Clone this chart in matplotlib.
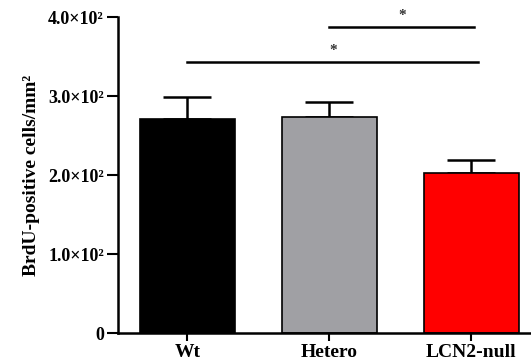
import matplotlib
matplotlib.use("Agg")
import matplotlib.pyplot as plt

groups = ['Wt', 'Hetero', 'LCN2-null']
means = [271, 273, 202]
sems = [28, 19, 17]
colors = ['#000000', '#a0a0a4', '#ff0000']
yticks = [0, 100, 200, 300, 400]
ytick_labels = ['0', '1.0×10²', '2.0×10²', '3.0×10²', '4.0×10²']
# significance bars: (from group, to group, height)
sig = [(0, 2.05, 343), (1, 2.02, 388)]

plt.rcParams['font.family'] = ['Liberation Serif', 'DejaVu Serif']
plt.rcParams['font.weight'] = 'bold'

fig = plt.figure(figsize=(5.31, 3.63), dpi=100)
ax = fig.add_axes([0.222, 0.0826, 0.778, 0.8705])

x = range(len(groups))
ax.bar(x, means, width=0.67, color=colors, edgecolor='black', linewidth=1.2, zorder=2)
ax.errorbar(x, means, yerr=[[0] * 3, sems], fmt='none', ecolor='black',
            elinewidth=1.8, capsize=17.5, capthick=1.8, zorder=1)

for a, b, h in sig:
    ax.plot([a, b], [h, h], color='black', lw=1.8, clip_on=False)
    ax.text((a + b) / 2, h + 6, '*', ha='center', va='bottom', fontsize=11, color='#333333')

ax.set_xlim(-0.49, 2.42)
ax.set_ylim(0, 400)
ax.set_yticks(yticks)
ax.set_yticklabels(ytick_labels, fontsize=13, fontweight='bold')
ax.set_xticks(list(x))
ax.set_xticklabels(groups, fontsize=14, fontweight='bold')
ax.set_ylabel('BrdU-positive cells/mm²', fontsize=14, fontweight='bold', labelpad=6)

for s in ['top', 'right']:
    ax.spines[s].set_visible(False)
for s in ['left', 'bottom']:
    ax.spines[s].set_linewidth(1.8)
ax.tick_params(axis='y', width=1.5, length=8, direction='out', pad=2)
ax.tick_params(axis='x', width=1.5, length=6, direction='out', pad=2)

fig.savefig('out.png', dpi=100)
